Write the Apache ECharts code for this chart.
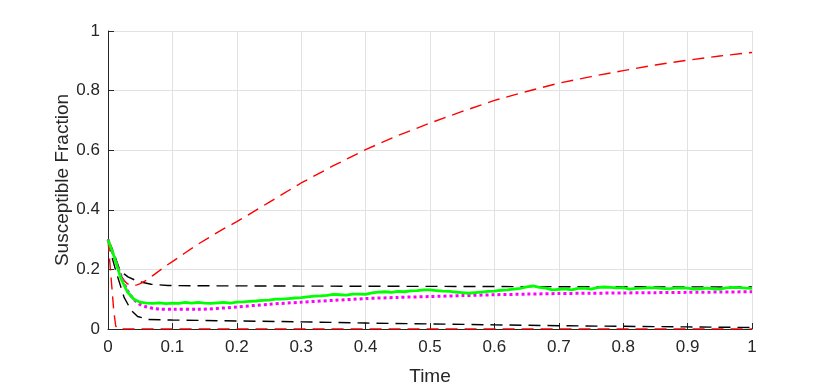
<!DOCTYPE html>
<html>
<head>
<meta charset="utf-8">
<script src="https://cdn.jsdelivr.net/npm/echarts@6/dist/echarts.min.js"></script>
<style>
  html, body { margin: 0; padding: 0; background: #fff; }
  #chart { width: 830px; height: 391px; }
</style>
</head>
<body>
<div id="chart"></div>
<script>
// time points and susceptible fraction for each curve
const xTicks = [0, 0.1, 0.2, 0.3, 0.4, 0.5, 0.6, 0.7, 0.8, 0.9, 1];
const yTicks = [0, 0.2, 0.4, 0.6, 0.8, 1];

const redRiseT = [0, 0.005, 0.01, 0.015, 0.02, 0.025, 0.03, 0.035, 0.04, 0.045, 0.05, 0.06, 0.07, 0.08, 0.09, 0.1,
  0.12, 0.14, 0.16, 0.18, 0.2, 0.25, 0.3, 0.35, 0.4, 0.45, 0.5, 0.55, 0.6, 0.65, 0.7, 0.75, 0.8, 0.85, 0.9, 0.95, 1];
const redRiseS = [0.30, 0.265, 0.235, 0.205, 0.18, 0.163, 0.152, 0.147, 0.146, 0.148, 0.152, 0.164, 0.18, 0.196, 0.212, 0.226,
  0.256, 0.285, 0.311, 0.337, 0.36, 0.425, 0.49, 0.548, 0.602, 0.649, 0.691, 0.73, 0.767, 0.797, 0.825, 0.847, 0.867, 0.886, 0.902, 0.916, 0.928];

const redDropT = [0, 0.003, 0.006, 0.009, 0.012, 0.016, 1];
const redDropS = [0.30, 0.22, 0.14, 0.06, 0.01, 0, 0];

const blackHighT = [0, 0.008, 0.017, 0.025, 0.031, 0.046, 0.067, 0.093, 0.15, 0.3, 0.5, 0.7, 1];
const blackHighS = [0.30, 0.262, 0.206, 0.185, 0.175, 0.16, 0.15, 0.146, 0.145, 0.144, 0.143, 0.142, 0.141];

const blackLowT = [0, 0.005, 0.012, 0.025, 0.036, 0.046, 0.062, 0.1, 0.2, 0.3, 0.4, 0.5, 0.6, 0.7, 0.8, 0.9, 1];
const blackLowS = [0.30, 0.25, 0.196, 0.106, 0.063, 0.042, 0.032, 0.03, 0.027, 0.024, 0.02, 0.017, 0.014, 0.011, 0.009, 0.007, 0.005];

const magentaT = [0, 0.01, 0.02, 0.03, 0.04, 0.05, 0.06, 0.07, 0.08, 0.1, 0.14, 0.2, 0.25, 0.3, 0.35, 0.4, 0.45,
  0.5, 0.55, 0.6, 0.65, 0.7, 0.75, 0.8, 0.85, 0.9, 0.95, 1];
const magentaS = [0.30, 0.24, 0.18, 0.13, 0.10, 0.082, 0.074, 0.069, 0.067, 0.066, 0.066, 0.074, 0.083, 0.09, 0.096, 0.102, 0.106,
  0.109, 0.112, 0.115, 0.117, 0.119, 0.12, 0.121, 0.122, 0.123, 0.124, 0.125];

const greenT = [0, 0.01, 0.02, 0.03, 0.04, 0.05, 0.06, 0.07, 0.08, 0.09,
  0.10, 0.11, 0.12, 0.13, 0.14, 0.15, 0.16, 0.17, 0.18, 0.19,
  0.20, 0.21, 0.22, 0.23, 0.24, 0.25, 0.26, 0.27, 0.28, 0.29,
  0.30, 0.31, 0.32, 0.33, 0.34, 0.35, 0.36, 0.37, 0.38, 0.39,
  0.40, 0.41, 0.42, 0.43, 0.44, 0.45, 0.46, 0.47, 0.48, 0.49,
  0.50, 0.51, 0.52, 0.53, 0.54, 0.55, 0.56, 0.57, 0.58, 0.59,
  0.60, 0.61, 0.62, 0.63, 0.64, 0.65, 0.66, 0.67, 0.68, 0.69,
  0.70, 0.71, 0.72, 0.73, 0.74, 0.75, 0.76, 0.77, 0.78, 0.79,
  0.80, 0.81, 0.82, 0.83, 0.84, 0.85, 0.86, 0.87, 0.88, 0.89,
  0.90, 0.91, 0.92, 0.93, 0.94, 0.95, 0.96, 0.97, 0.98, 0.99, 1];
const greenS = [0.30, 0.24, 0.17, 0.125, 0.10, 0.09, 0.087, 0.086, 0.088, 0.085,
  0.087, 0.086, 0.089, 0.087, 0.089, 0.087, 0.086, 0.088, 0.089, 0.087,
  0.090, 0.091, 0.093, 0.094, 0.096, 0.097, 0.100, 0.100, 0.102, 0.104,
  0.105, 0.108, 0.110, 0.111, 0.113, 0.116, 0.115, 0.114, 0.117, 0.117,
  0.116, 0.121, 0.124, 0.125, 0.123, 0.126, 0.125, 0.128, 0.129, 0.131,
  0.131, 0.129, 0.127, 0.126, 0.124, 0.122, 0.120, 0.122, 0.124, 0.126,
  0.127, 0.130, 0.131, 0.134, 0.136, 0.141, 0.145, 0.140, 0.137, 0.131,
  0.133, 0.135, 0.131, 0.136, 0.137, 0.134, 0.139, 0.141, 0.140, 0.138,
  0.139, 0.134, 0.136, 0.137, 0.139, 0.138, 0.136, 0.135, 0.137, 0.138,
  0.137, 0.134, 0.135, 0.137, 0.135, 0.134, 0.138, 0.140, 0.139, 0.137, 0.136];

const pairUp = (t, s) => t.map((x, i) => [x, s[i]]);

const axisColor = '#262626';
const font = '"Liberation Sans", Arial, Helvetica, sans-serif';

const chart = echarts.init(document.getElementById('chart'), null, { renderer: 'canvas' });

const dashed = (name, t, s, color) => ({
  name,
  type: 'line',
  data: pairUp(t, s),
  showSymbol: false,
  symbol: 'none',
  lineStyle: { color, width: 1.4, type: [12, 7] },
  z: 2
});

chart.setOption({
  animation: false,
  backgroundColor: '#fff',
  grid: { left: 108, top: 31, width: 644, height: 300, containLabel: false },
  xAxis: {
    type: 'value',
    min: 0, max: 1, interval: 0.1,
    name: 'Time',
    nameLocation: 'middle',
    nameGap: 38,
    nameMoveOverlap: false,
    nameTextStyle: { color: axisColor, fontSize: 19, fontFamily: font },
    axisLine: { show: true, lineStyle: { color: axisColor, width: 1 } },
    axisTick: { show: true, inside: true, length: 6, lineStyle: { color: axisColor } },
    axisLabel: { color: axisColor, fontSize: 17, fontFamily: font, margin: 10,
      formatter: v => xTicks.includes(+v.toFixed(1)) ? String(+v.toFixed(1)) : '' },
    splitLine: { show: true, lineStyle: { color: '#e2e2e2', width: 1 } }
  },
  yAxis: {
    type: 'value',
    min: 0, max: 1, interval: 0.2,
    name: 'Susceptible Fraction',
    nameLocation: 'middle',
    nameGap: 36,
    nameMoveOverlap: false,
    nameTextStyle: { color: axisColor, fontSize: 19, fontFamily: font },
    axisLine: { show: true, lineStyle: { color: axisColor, width: 1 } },
    axisTick: { show: true, inside: true, length: 6, lineStyle: { color: axisColor } },
    axisLabel: { color: axisColor, fontSize: 17, fontFamily: font, margin: 8,
      formatter: v => yTicks.includes(+v.toFixed(1)) ? String(+v.toFixed(1)) : '' },
    splitLine: { show: true, lineStyle: { color: '#e2e2e2', width: 1 } }
  },
  series: [
    dashed('black high', blackHighT, blackHighS, '#000000'),
    dashed('black low', blackLowT, blackLowS, '#000000'),
    {
      name: 'magenta',
      type: 'line',
      data: pairUp(magentaT, magentaS),
      showSymbol: false,
      symbol: 'none',
      smooth: 0.3,
      lineStyle: { color: '#ff00ff', width: 3, type: [3, 3], cap: 'butt' },
      z: 3
    },
    {
      name: 'green',
      type: 'line',
      data: pairUp(greenT, greenS),
      showSymbol: false,
      symbol: 'none',
      lineStyle: { color: '#00ff00', width: 2.8 },
      z: 4
    },
    dashed('red rise', redRiseT, redRiseS, '#ff0000'),
    dashed('red drop', redDropT, redDropS, '#ff0000')
  ]
});
</script>
</body>
</html>
